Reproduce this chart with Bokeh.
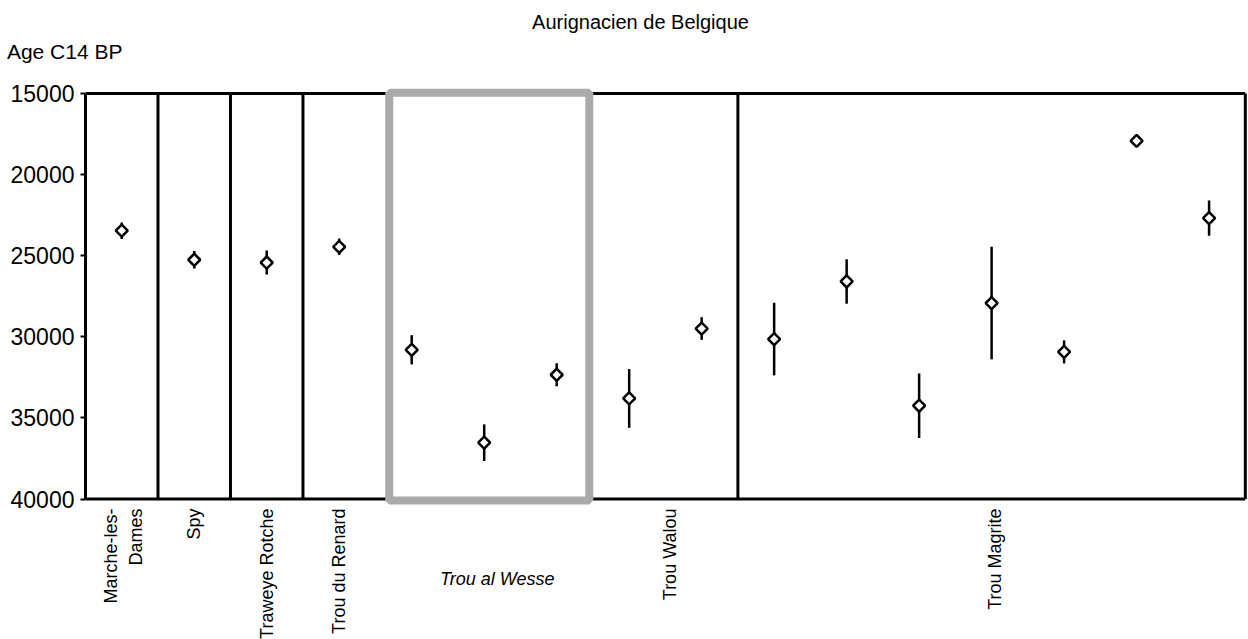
import math
from bokeh.plotting import figure
from bokeh.models import Range1d, FixedTicker, BoxAnnotation, ColumnDataSource, LinearAxis
from bokeh.core.properties import value
from bokeh.embed import file_html
from bokeh.resources import INLINE

# ---- data ----
sites = ["Marche-les-Dames", "Spy", "Traweye Rotche", "Trou du Renard",
         "Trou al Wesse", "Trou al Wesse", "Trou al Wesse",
         "Trou Walou", "Trou Walou",
         "Trou Magrite", "Trou Magrite", "Trou Magrite", "Trou Magrite",
         "Trou Magrite", "Trou Magrite", "Trou Magrite"]
ages = [23460, 25250, 25420, 24450,
        30800, 36530, 32340,
        33800, 29490,
        30140, 26590, 34250, 27920, 30930, 17920, 22680]
errors = [510, 540, 740, 510,
          900, 1130, 710,
          1810, 700,
          2240, 1370, 1990, 3470, 710, 0, 1090]
y_ticks = [15000, 20000, 25000, 30000, 35000, 40000]
dividers = [1, 2, 3, 9]
rotated_labels = ["Marche-les-", "Dames", "Spy", "Traweye Rotche",
                  "Trou du Renard", "Trou Walou", "Trou Magrite"]
italic_label = "Trou al Wesse"
title_text = "Aurignacien de Belgique"
ytitle_text = "Age C14 BP"

# ---- layout constants ----
FONT = "Liberation Sans"
W, H = 1247, 639
BL = 85
FRAME_TOP_PX = 93.0      # page y of 15000
FRAME_BOT_PX = 498.5     # page y of 40000
Y0, Y1 = 15000, 40000
K = (Y1 - Y0) / (FRAME_BOT_PX - FRAME_TOP_PX)   # data units per px
X_END = 16.03
X_MAX = 16
PX_PER_X = (W - BL) / X_END

def ydat(py):
    return Y0 + (py - FRAME_TOP_PX) * K

def xdat(px):
    return (px - BL) / PX_PER_X

p = figure(width=W, height=H, output_backend="svg", toolbar_location=None,
           x_range=Range1d(0, X_END), y_range=Range1d(ydat(H), ydat(0)),
           x_axis_location=None,
           min_border_left=BL, min_border_right=0, min_border_top=0, min_border_bottom=0)
p.background_fill_color = "white"
p.border_fill_color = "white"
p.grid.visible = False
p.outline_line_color = None

# numeric y axis
ax = p.yaxis[0]
ax.ticker = FixedTicker(ticks=y_ticks)
ax.bounds = (Y0, Y1)
ax.axis_line_width = 3
ax.axis_line_color = "black"
ax.major_tick_line_width = 2
ax.major_tick_out = 5
ax.major_tick_in = 0
ax.minor_tick_line_color = None
ax.major_label_standoff = 6
ax.major_label_text_font = FONT
ax.major_label_text_font_size = "23px"
ax.major_label_text_color = "black"

# y-axis title rendered as the single tick label of an outer helper axis
age_tick = round(ydat(50.5))
ax2 = LinearAxis(ticker=FixedTicker(ticks=[age_tick]),
                 major_label_overrides={age_tick: ytitle_text},
                 axis_line_color=None, major_tick_line_color=None,
                 minor_tick_line_color=None, major_tick_out=0, major_tick_in=0,
                 major_label_standoff=-115, major_label_text_font=FONT,
                 major_label_text_font_size="21px", major_label_text_color="black")
p.add_layout(ax2, "left")

# frame box (top, bottom, right) and group dividers
p.segment(x0=[0, 0, X_MAX], y0=[Y0, Y1, Y0], x1=[X_MAX, X_MAX, X_MAX], y1=[Y0, Y1, Y1],
          line_color="black", line_width=3)
p.segment(x0=dividers, y0=[Y0] * len(dividers), x1=dividers, y1=[Y1] * len(dividers),
          line_color="black", line_width=3)

p.add_layout(BoxAnnotation(left=4.19, right=6.95, top=Y0 - 40, bottom=Y1 + 90,
                           fill_alpha=0, line_color="#aaaaaa", line_alpha=1.0,
                           line_width=8, level="overlay"))

xs = [i + 0.5 for i in range(len(ages))]
src = ColumnDataSource(dict(x=xs, y=ages,
                            lo=[a - e for a, e in zip(ages, errors)],
                            hi=[a + e for a, e in zip(ages, errors)],
                            site=sites))
p.segment(x0="x", y0="lo", x1="x", y1="hi", source=src, line_color="black", line_width=2.5)
p.scatter(x="x", y="y", source=src, marker="square", angle=math.pi / 4, size=8.5,
          fill_color="white", line_color="black", line_width=2.5)

# chart title
p.text(x=[xdat(640)], y=[ydat(21)], text=[title_text], text_align="center",
       text_baseline="alphabetic", text_font=value(FONT), text_font_size="20px",
       text_color="black")

# category labels
rot_x = [0.345, 0.69, 1.5, 2.5, 3.5, 8.07, 12.55]
p.text(x=rot_x, y=[ydat(508)] * len(rot_x), text=rotated_labels, angle=math.pi / 2,
       text_align="right", text_baseline="middle", text_font=value(FONT),
       text_font_size="18px", text_color="black")
p.text(x=[5.68], y=[ydat(578)], text=[italic_label], text_align="center",
       text_baseline="middle", text_font=value(FONT), text_font_size="18px",
       text_font_style="italic", text_color="black")

open("out.html", "w").write(file_html(p, INLINE))
